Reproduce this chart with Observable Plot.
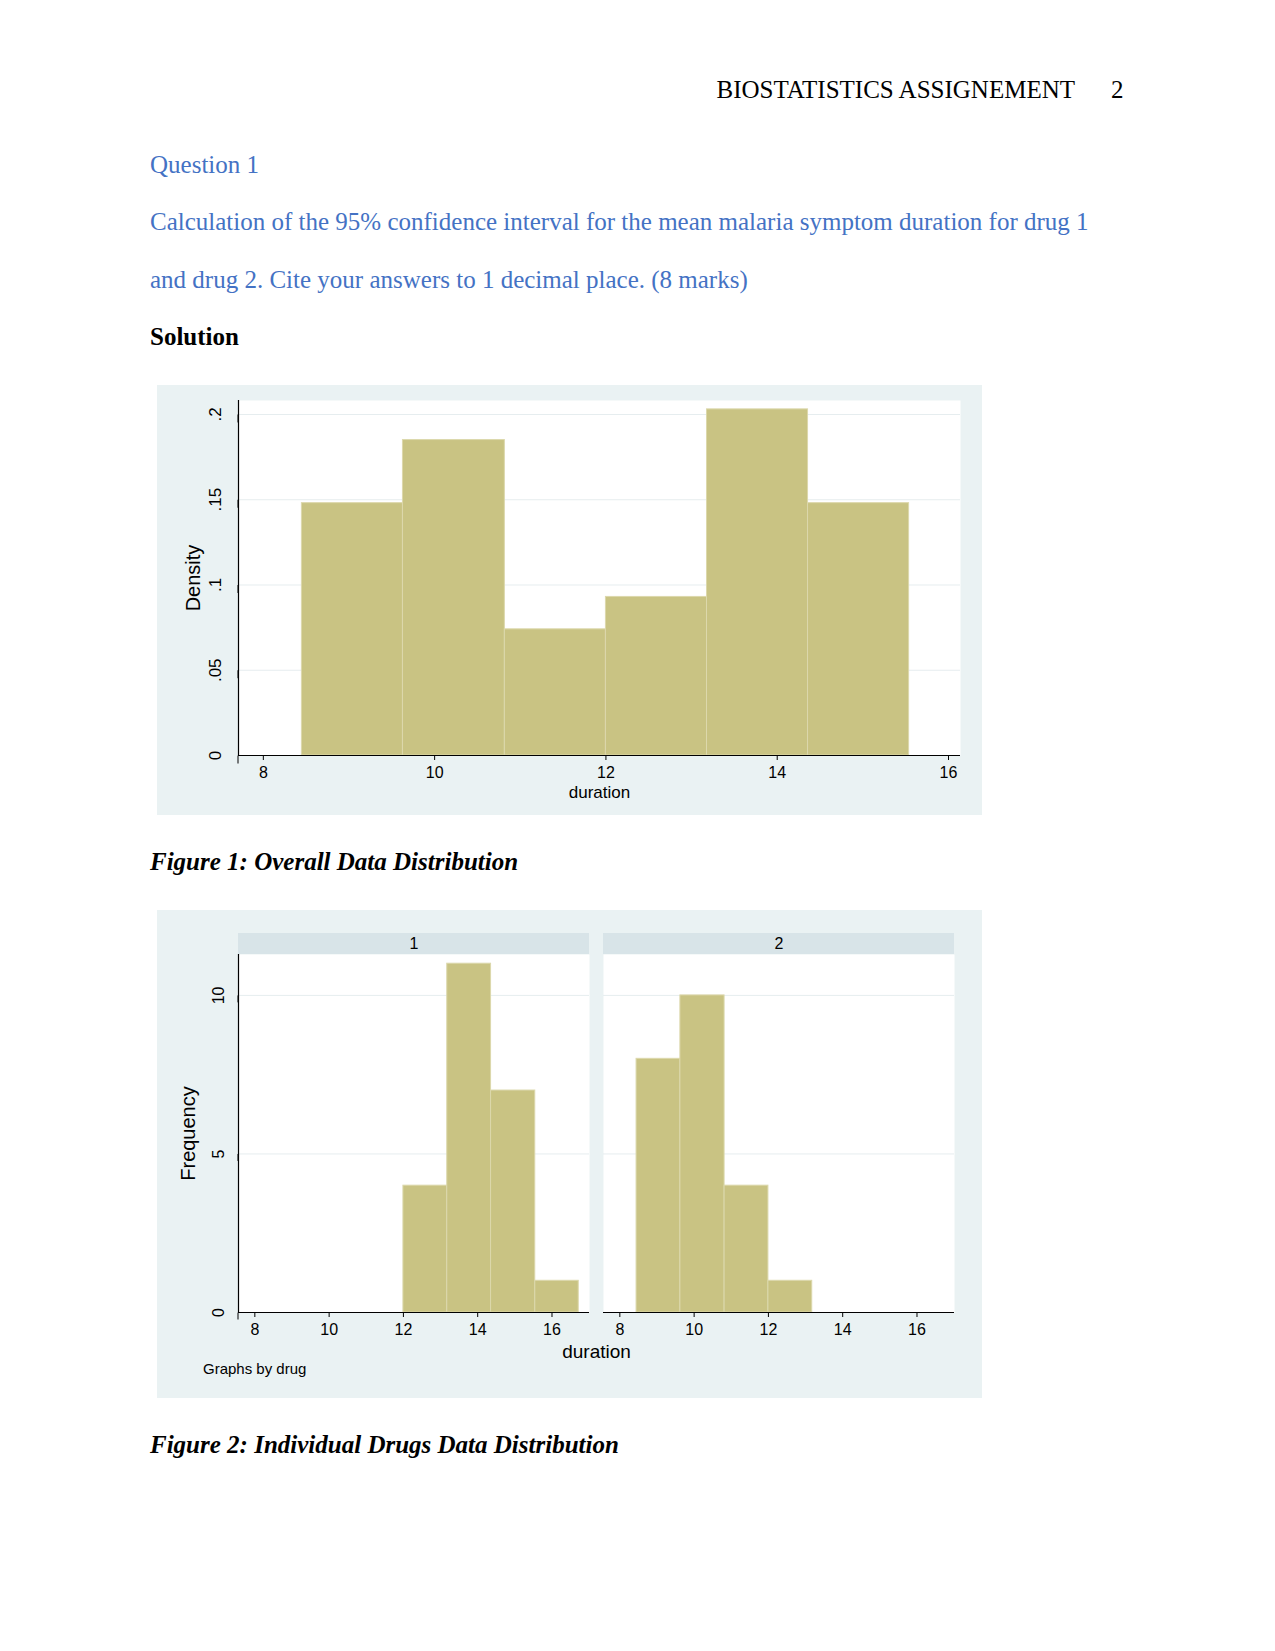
<!DOCTYPE html>
<html>
<head>
<meta charset="utf-8">
<script src="https://cdn.jsdelivr.net/npm/d3@7"></script>
<script src="https://cdn.jsdelivr.net/npm/@observablehq/plot@0.6"></script>
<style>
  html, body { margin: 0; padding: 0; background: #ffffff; }
  #page { position: relative; width: 1275px; height: 1651px; overflow: hidden; background: #ffffff; }
  .t { position: absolute; font-family: "Liberation Serif", "Times New Roman", serif; font-size: 25px; line-height: 25px; white-space: nowrap; color: #000; }
  .blue { color: #4472c4; }
  .panelbg { position: absolute; background: #eaf2f3; }
  .strip { position: absolute; background: #d8e4e8; }
  .chart { position: absolute; }
  .note { position: absolute; font-family: "Liberation Sans", Arial, sans-serif; font-size: 15px; line-height: 15px; white-space: nowrap; color: #000; }
</style>
</head>
<body>
<div id="page">
  <div class="t" style="right:200px; top:77px;">BIOSTATISTICS ASSIGNEMENT</div>
  <div class="t" style="left:1111px; top:77px;">2</div>
  <div class="t blue" style="left:150px; top:152px;">Question 1</div>
  <div class="t blue" style="left:150px; top:209px;">Calculation of the 95% confidence interval for the mean malaria symptom duration for drug 1</div>
  <div class="t blue" style="left:150px; top:267px;">and drug 2. Cite your answers to 1 decimal place. (8 marks)</div>
  <div class="t" style="left:150px; top:324px; font-weight:bold;">Solution</div>

  <div id="fig1" class="chart" style="left:157px; top:385px;"></div>

  <div class="t" style="left:150px; top:849px; font-weight:bold; font-style:italic;">Figure 1: Overall Data Distribution</div>

  <div class="panelbg" style="left:157px; top:910px; width:825px; height:488px;"></div>
  <div class="strip" style="left:238px; top:933px; width:351px; height:21px;"></div>
  <div class="strip" style="left:603px; top:933px; width:351px; height:21px;"></div>
  <div id="fig2" class="chart" style="left:157px; top:910px;"></div>
  <div class="note" style="left:203px; top:1361px;">Graphs by drug</div>

  <div class="t" style="left:150px; top:1432px; font-weight:bold; font-style:italic;">Figure 2: Individual Drugs Data Distribution</div>
</div>

<script>
// ---------- Data ----------
// Figure 1: overall histogram (density)
const overallBinStart = [8.45, 9.63, 10.82, 12.0, 13.18, 14.36];
const overallBinEnd   = [9.63, 10.82, 12.0, 13.18, 14.36, 15.54];
const overallDensity  = [0.148, 0.185, 0.074, 0.093, 0.203, 0.148];

// Figure 2: histograms by drug (frequency)
const drugs = [1, 2];
const drug1BinStart = [12.0, 13.18, 14.36, 15.55];
const drug1BinEnd   = [13.18, 14.36, 15.55, 16.72];
const drug1Frequency = [4, 11, 7, 1];
const drug2BinStart = [8.45, 9.63, 10.82, 12.0];
const drug2BinEnd   = [9.63, 10.82, 12.0, 13.18];
const drug2Frequency = [8, 10, 4, 1];

// Axis ticks / labels
const durationTicks = [8, 10, 12, 14, 16];
const densityTicks = [0, 0.05, 0.1, 0.15, 0.2];
const densityTickLabels = ["0", ".05", ".1", ".15", ".2"];
const frequencyTicks = [0, 5, 10];
const frequencyTickLabels = ["0", "5", "10"];

// Scale extents (as seen in the picture)
const overallXDomain = [7.71, 16.14];
const overallYDomain = [0, 0.2082];
const byDrugXDomain = [7.56, 17.01];
const byDrugYDomain = [0, 11.29];

// ---------- Styles ----------
const BAR = "#c9c383";
const BAR_EDGE = "#dcd8ac";
const GRID = "#e6edef";
const FONT = "'Liberation Sans', Arial, Helvetica, sans-serif";

// ---------- Tables ----------
const overallTable = overallDensity.map((v, i) => ({x1: overallBinStart[i], x2: overallBinEnd[i], density: v}));
const byDrugTable = [
  ...drug1Frequency.map((v, i) => ({drug: drugs[0], x1: drug1BinStart[i], x2: drug1BinEnd[i], frequency: v})),
  ...drug2Frequency.map((v, i) => ({drug: drugs[1], x1: drug2BinStart[i], x2: drug2BinEnd[i], frequency: v}))
];

// ---------- Figure 1 ----------
const fig1 = Plot.plot({
  width: 825,
  height: 430,
  marginLeft: 81,
  marginRight: 22,
  marginTop: 15,
  marginBottom: 60,
  style: {background: "#eaf2f3", fontFamily: FONT, color: "#000", overflow: "visible"},
  x: {domain: overallXDomain},
  y: {domain: overallYDomain},
  marks: [
    Plot.frame({fill: "white", stroke: "none"}),
    Plot.gridY({ticks: densityTicks.slice(1), stroke: GRID, strokeOpacity: 1}),
    Plot.rectY(overallTable, {x1: "x1", x2: "x2", y: "density", fill: BAR, stroke: BAR_EDGE, strokeWidth: 1}),
    Plot.ruleX([overallXDomain[0]], {stroke: "#000", strokeWidth: 1.2}),
    Plot.ruleY([0], {stroke: "#000", strokeWidth: 1.2}),
    Plot.axisY({ticks: densityTicks, tickFormat: d => densityTickLabels[densityTicks.indexOf(d)], tickSize: 8, tickPadding: 15, rotate: -90, textAnchor: "middle", fontSize: 17, label: null}),
    Plot.axisY({ticks: [], label: "Density", labelArrow: "none", labelAnchor: "center", labelOffset: 53, fontSize: 20}),
    Plot.axisX({ticks: durationTicks, tickSize: 5, tickPadding: 6, fontSize: 16, label: null}),
    Plot.axisX({ticks: [], label: "duration", labelArrow: "none", labelAnchor: "center", labelOffset: 42, fontSize: 17})
  ]
});
document.getElementById("fig1").appendChild(fig1);

// ---------- Figure 2 ----------
const fig2 = Plot.plot({
  width: 825,
  height: 488,
  marginLeft: 81,
  marginRight: 28,
  marginTop: 44,
  marginBottom: 86,
  style: {background: "transparent", fontFamily: FONT, color: "#000", overflow: "visible"},
  fx: {domain: drugs, paddingInner: 0.0384, paddingOuter: 0, label: null},
  x: {domain: byDrugXDomain},
  y: {domain: byDrugYDomain},
  marks: [
    Plot.frame({fill: "white", stroke: "none"}),
    Plot.gridY({ticks: frequencyTicks.slice(1), stroke: GRID, strokeOpacity: 1}),
    Plot.rectY(byDrugTable, {fx: "drug", x1: "x1", x2: "x2", y: "frequency", fill: BAR, stroke: BAR_EDGE, strokeWidth: 1}),
    Plot.ruleY([0], {stroke: "#000", strokeWidth: 1.2}),
    Plot.ruleX([{drug: drugs[0], x: byDrugXDomain[0]}], {fx: "drug", x: "x", stroke: "#000", strokeWidth: 1.2}),
    Plot.axisFx({anchor: "top", tickSize: 0, tickPadding: 6, fontSize: 16, label: null}),
    Plot.axisY({ticks: frequencyTicks, tickFormat: d => frequencyTickLabels[frequencyTicks.indexOf(d)], tickSize: 7, tickPadding: 13, rotate: -90, textAnchor: "middle", fontSize: 16, label: null}),
    Plot.axisY({ticks: [], label: "Frequency", labelArrow: "none", labelAnchor: "center", labelOffset: 58, fontSize: 20}),
    Plot.axisX({ticks: durationTicks, tickSize: 5, tickPadding: 6, fontSize: 16, label: null}),
    Plot.axisX({ticks: [], label: "duration", labelArrow: "none", labelAnchor: "center", labelOffset: 45, fontSize: 19})
  ]
});
document.getElementById("fig2").appendChild(fig2);
</script>
</body>
</html>
